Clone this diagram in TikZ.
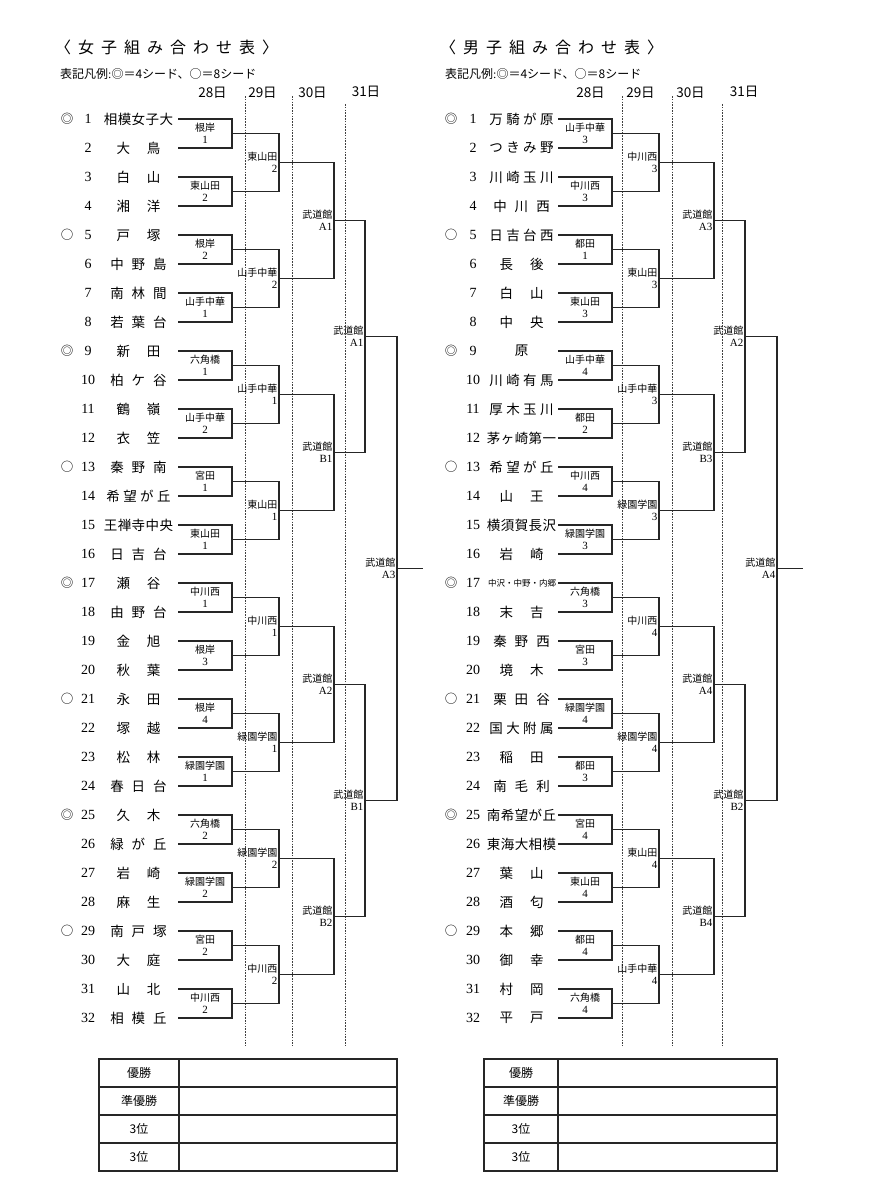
\documentclass[tikz,border=0pt]{standalone}
\usepackage{fontspec}
\setmainfont{Liberation Serif}
\newfontfamily\jp{Noto Sans CJK JP}
\makeatletter
\newcount\chcnt
\newdimen\chgap
\def\cntchars#1{\chcnt=0 \cnt@A#1\relax}
\def\cnt@A#1{\ifx#1\relax\else\advance\chcnt by 1 \expandafter\cnt@A\fi}
\def\spreadchars#1{\spr@A#1\relax}
\def\spr@A#1{#1\spr@B}
\def\spr@B#1{\ifx#1\relax\else\kern\chgap #1\expandafter\spr@B\fi}
\def\setgap{\ifcase\chcnt\chgap=0pt\or\chgap=0pt\or\chgap=17pt\or\chgap=8pt\or\chgap=3.4pt\else\chgap=0.4pt\fi}
\newcommand\spaced[2]{\chgap=#1\relax\spreadchars{#2}}
\makeatother
\newcommand\tname[4]{\edef\tmpnm{#4}%
  \node[tnm] (#1) at (#2,#3) {\expandafter\cntchars\expandafter{\tmpnm}\setgap\expandafter\spreadchars\expandafter{\tmpnm}};}
\begin{document}
\begin{tikzpicture}[x=1pt,y=-1pt,
  br/.style={line width=1.1pt,draw=black!85,line join=miter},
  dl/.style={line width=0.7pt,draw=black!75,dash pattern=on 1.6pt off 1.2pt},
  tb/.style={line width=1.1pt,draw=black!85},
  tnm/.style={inner sep=0pt,font=\jp\fontsize{13.5}{14}\selectfont},
  tnum/.style={inner sep=0pt,font=\fontsize{14}{14}\selectfont},
  seedm/.style={inner sep=0pt,font=\jp\fontsize{12.5}{13}\selectfont},
  r1/.style={inner sep=0pt,align=center,font=\fontsize{11}{11.5}\selectfont},
  r2/.style={inner sep=0pt,align=right,anchor=east,font=\fontsize{11}{11.5}\selectfont},
  day/.style={inner sep=0pt,font=\jp\fontsize{13.5}{14}\selectfont},
  ttl/.style={inner sep=0pt,anchor=west,font=\jp\fontsize{16}{16}\selectfont},
  lgd/.style={inner sep=0pt,anchor=west,font=\jp\fontsize{12}{12}\selectfont},
  tlab/.style={inner sep=0pt,font=\jp\fontsize{12}{12}\selectfont}]
\useasboundingbox[fill=white] (0,0) rectangle (893,1200);

% ---------- titles ----------
\node[ttl] (tg) at (55,47) {\spaced{7pt}{〈女子組み合わせ表〉}};
\node[ttl] (tb) at (440,47) {\spaced{7pt}{〈男子組み合わせ表〉}};
\node[lgd] (lg) at (60,74) {表記凡例{\rmfamily:}◎＝4シード、○＝8シード};
\node[lgd] (lb) at (445,74) {表記凡例{\rmfamily:}◎＝4シード、○＝8シード};

% ---------- day headers and dashed lines ----------
\foreach \ox/\s in {0/g,378/b}{
  \node[day] (d28\s) at (212.5+\ox,93) {28日};
  \node[day] (d29\s) at (262.5+\ox,93) {29日};
  \node[day] (d30\s) at (312.5+\ox,93) {30日};
  \node[day] (d31\s) at (366+\ox,92) {31日};
}
\foreach \xx in {245,292,622,672}{\draw[dl] (\xx,96) -- (\xx,1046);}
\foreach \xx in {345,722}{\draw[dl] (\xx,104) -- (\xx,1046);}

% ---------- bracket lines ----------
\foreach \ox in {0,380}{
  \foreach \p in {0,...,15}{
    \pgfmathsetmacro\ya{119+58*\p}
    \pgfmathsetmacro\yb{\ya+29}
    \draw[br] (178+\ox,\ya) -| (232+\ox,\yb) -- (178+\ox,\yb);
  }
  \foreach \q in {0,...,7}{
    \pgfmathsetmacro\ya{133.5+116*\q}
    \pgfmathsetmacro\yb{\ya+58}
    \draw[br] (232+\ox,\ya) -| (279+\ox,\yb) -- (232+\ox,\yb);
  }
  \foreach \r in {0,...,3}{
    \pgfmathsetmacro\ya{162.5+232*\r}
    \pgfmathsetmacro\yb{\ya+116}
    \draw[br] (279+\ox,\ya) -| (334+\ox,\yb) -- (279+\ox,\yb);
  }
  \foreach \s in {0,1}{
    \pgfmathsetmacro\ya{220.5+464*\s}
    \pgfmathsetmacro\yb{\ya+232}
    \draw[br] (334+\ox,\ya) -| (365+\ox,\yb) -- (334+\ox,\yb);
  }
  \draw[br] (365+\ox,336.5) -| (397+\ox,800.5) -- (365+\ox,800.5);
  \draw[br] (397+\ox,568.5) -- (423+\ox,568.5);
}

% ---------- seeds and numbers ----------
\foreach \ox/\nx/\s in {0/0/g,384/385/b}{
  \foreach \i in {1,9,17,25}{\node[seedm] (sd\s\i) at (67+\ox,{119+29*(\i-1)}) {◎};}
  \foreach \i in {5,13,21,29}{\node[seedm] (sd\s\i) at (67+\ox,{119+29*(\i-1)}) {○};}
  \foreach \i in {1,...,32}{\node[tnum] (nm\s\i) at (88+\nx,{119+29*(\i-1)}) {\i};}
}

% ---------- team names ----------
\foreach \nm [count=\i] in {相模女子大,大鳥,白山,湘洋,戸塚,中野島,南林間,若葉台,
  新田,柏ケ谷,鶴嶺,衣笠,秦野南,希望が丘,王禅寺中央,日吉台,
  瀬谷,由野台,金旭,秋葉,永田,塚越,松林,春日台,
  久木,緑が丘,岩崎,麻生,南戸塚,大庭,山北,相模丘}{
  \pgfmathsetmacro\yy{119+29*(\i-1)}
  \tname{tg\i}{138.5}{\yy}{\nm}
}
\foreach \nm [count=\i] in {万騎が原,つきみ野,川崎玉川,中川西,日吉台西,長後,白山,中央,
  原,川崎有馬,厚木玉川,茅ヶ崎第一,希望が丘,山王,横須賀長沢,岩崎,
  X,末吉,秦野西,境木,栗田谷,国大附属,稲田,南毛利,
  南希望が丘,東海大相模,葉山,酒匂,本郷,御幸,村岡,平戸}{
  \pgfmathsetmacro\yy{119+29*(\i-1)}
  \ifnum\i=17\relax
    \node[inner sep=0pt,font=\jp\fontsize{8.5}{9}\selectfont] (tb17) at (522,\yy) {中沢・中野・内郷};
  \else
    \tname{tb\i}{521.5}{\yy}{\nm}
  \fi
}

% ---------- round labels: girls ----------
\foreach \la/\lb [count=\p from 0] in {根岸/1,東山田/2,根岸/2,山手中華/1,六角橋/1,山手中華/2,宮田/1,東山田/1,
  中川西/1,根岸/3,根岸/4,緑園学園/1,六角橋/2,緑園学園/2,宮田/2,中川西/2}{
  \node[r1] (g1r\p) at (205,{133.5+58*\p}) {{\jp\fontsize{10}{11.5}\selectfont\la}\\\lb};
}
\foreach \la/\lb [count=\q from 0] in {東山田/2,山手中華/2,山手中華/1,東山田/1,中川西/1,緑園学園/1,緑園学園/2,中川西/2}{
  \node[r2] (g2r\q) at (277.6,{162.5+116*\q}) {{\jp\fontsize{10}{11.5}\selectfont\la}\\\lb};
}
\foreach \lb [count=\r from 0] in {A1,B1,A2,B2}{
  \node[r2] (g3r\r) at (332.6,{220.5+232*\r}) {{\jp\fontsize{10}{11.5}\selectfont 武道館}\\\lb};
}
\foreach \lb [count=\s from 0] in {A1,B1}{
  \node[r2] (g4r\s) at (363.6,{336.5+464*\s}) {{\jp\fontsize{10}{11.5}\selectfont 武道館}\\\lb};
}
\node[r2] (g5r) at (395.6,568.5) {{\jp\fontsize{10}{11.5}\selectfont 武道館}\\A3};

% ---------- round labels: boys ----------
\foreach \la/\lb [count=\p from 0] in {山手中華/3,中川西/3,都田/1,東山田/3,山手中華/4,都田/2,中川西/4,緑園学園/3,
  六角橋/3,宮田/3,緑園学園/4,都田/3,宮田/4,東山田/4,都田/4,六角橋/4}{
  \node[r1] (b1r\p) at (585,{133.5+58*\p}) {{\jp\fontsize{10}{11.5}\selectfont\la}\\\lb};
}
\foreach \la/\lb [count=\q from 0] in {中川西/3,東山田/3,山手中華/3,緑園学園/3,中川西/4,緑園学園/4,東山田/4,山手中華/4}{
  \node[r2] (b2r\q) at (657.6,{162.5+116*\q}) {{\jp\fontsize{10}{11.5}\selectfont\la}\\\lb};
}
\foreach \lb [count=\r from 0] in {A3,B3,A4,B4}{
  \node[r2] (b3r\r) at (712.6,{220.5+232*\r}) {{\jp\fontsize{10}{11.5}\selectfont 武道館}\\\lb};
}
\foreach \lb [count=\s from 0] in {A2,B2}{
  \node[r2] (b4r\s) at (743.6,{336.5+464*\s}) {{\jp\fontsize{10}{11.5}\selectfont 武道館}\\\lb};
}
\node[r2] (b5r) at (775.6,568.5) {{\jp\fontsize{10}{11.5}\selectfont 武道館}\\A4};

% ---------- result tables ----------
\foreach \xl/\xm/\xr/\s in {99/179/397/g,484/558/777/b}{
  \draw[tb] (\xl,1059) rectangle (\xr,1171);
  \draw[tb] (\xm,1059) -- (\xm,1171);
  \foreach \yy in {1087,1115,1143}{\draw[tb] (\xl,\yy) -- (\xr,\yy);}
  \node[tlab] (w1\s) at ({(\xl+\xm)/2},1073) {優勝};
  \node[tlab] (w2\s) at ({(\xl+\xm)/2},1101) {準優勝};
  \node[tlab] (w3\s) at ({(\xl+\xm)/2},1129) {3位};
  \node[tlab] (w4\s) at ({(\xl+\xm)/2},1157) {3位};
}
\end{tikzpicture}
\end{document}
